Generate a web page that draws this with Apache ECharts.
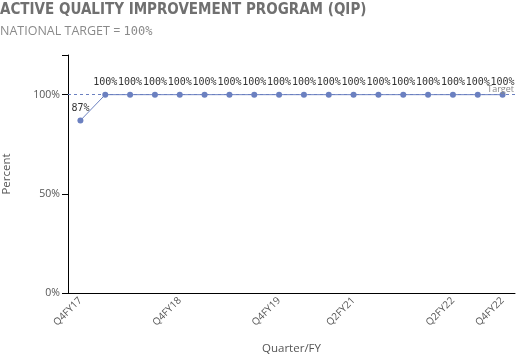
<!DOCTYPE html>
<html><head><meta charset="utf-8">
<script src="https://cdn.jsdelivr.net/npm/echarts@6/dist/echarts.min.js"></script>
<style>html,body{margin:0;padding:0;background:#fff}#c{width:520px;height:360px}</style>
</head><body><div id="c"></div>
<script>
const categories = ["Q4FY17","Q1FY18","Q2FY18","Q3FY18","Q4FY18","Q1FY19","Q2FY19","Q3FY19","Q4FY19","Q1FY20","Q1FY21","Q2FY21","Q3FY21","Q4FY21","Q1FY22","Q2FY22","Q3FY22","Q4FY22"];
const values = [87,100,100,100,100,100,100,100,100,100,100,100,100,100,100,100,100,100];
const shownLabels = ["Q4FY17","Q4FY18","Q4FY19","Q2FY21","Q2FY22","Q4FY22"];
const target = 100;
const yTicks = [0,50,100];

const chart = echarts.init(document.getElementById('c'), null, {renderer:'canvas'});
const showIdx = (i, v) => shownLabels.indexOf(categories[i]) >= 0;
chart.setOption({
  animation:false,
  title:{
    text:'ACTIVE QUALITY IMPROVEMENT PROGRAM (QIP)',
    subtext:'NATIONAL TARGET = {m|100%}',
    left:0, top:3, padding:0, itemGap:7,
    textStyle:{fontFamily:'DejaVu Sans Condensed', fontWeight:'bold', fontSize:15, color:'#707070'},
    subtextStyle:{fontFamily:'Open Sans', fontSize:12.5, color:'#8a8a8a',
      rich:{m:{fontFamily:'DejaVu Sans Mono', fontSize:12, color:'#8a8a8a'}}}
  },
  grid:{left:68, right:5, top:55, bottom:67, outerBoundsMode:'none'},
  xAxis:{
    type:'category', data:categories, boundaryGap:true,
    name:'Quarter/FY', nameLocation:'middle', nameGap:50,
    nameTextStyle:{fontFamily:'Open Sans', fontSize:11.5, color:'#555'},
    axisLine:{lineStyle:{color:'#000', width:1}},
    axisTick:{alignWithLabel:true, interval:showIdx, length:4, lineStyle:{color:'#000'}},
    axisLabel:{interval:showIdx, rotate:45, fontFamily:'Open Sans', fontSize:10, color:'#555', margin:6}
  },
  yAxis:{
    type:'value', min:0, max:120, interval:50,
    name:'Percent', nameLocation:'middle', nameGap:55, nameRotate:90,
    nameTextStyle:{fontFamily:'Open Sans', fontSize:11.5, color:'#555'},
    axisLine:{show:true, lineStyle:{color:'#000', width:1}},
    axisTick:{show:true, length:6, lineStyle:{color:'#000'}},
    splitLine:{show:false},
    axisLabel:{fontFamily:'Open Sans', fontSize:10.5, color:'#555', margin:8,
      formatter:v => yTicks.indexOf(v) >= 0 ? v + '%' : ''}
  },
  series:[{
    type:'line', data:values, symbol:'circle', symbolSize:6,
    lineStyle:{color:'#6b80c0', width:1},
    itemStyle:{color:'#6b80c0'},
    label:{show:true, position:'top', distance:4, formatter:p => p.value + '%',
      fontFamily:'DejaVu Sans Mono', fontSize:10, color:'#333'},
    markLine:{
      silent:true, symbol:'none',
      data:[{yAxis:target}],
      lineStyle:{type:[3,3], color:'#6b80c0', width:1},
      label:{show:true, position:'insideEndTop', formatter:'Target', fontFamily:'Open Sans', fontSize:9, color:'#888', distance:1}
    }
  }]
});
</script></body></html>
